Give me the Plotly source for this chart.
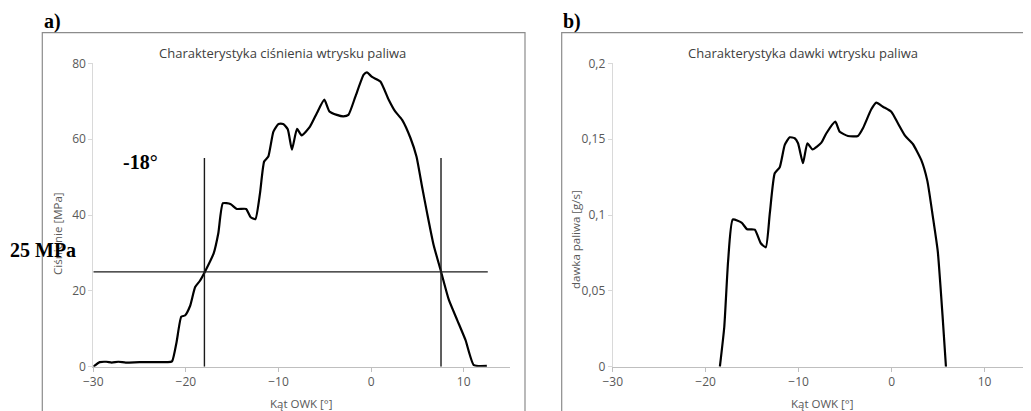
import plotly.graph_objects as go

# ---- data: injection pressure (panel a) ----
kat_a = [-30, -29.3, -28.6, -28.0, -27.3, -26.5, -25.0, -23.0, -22.0, -21.5, -21.0, -20.5, -20.1,
         -19.55, -19.0, -18.5, -18.0, -17.0, -16.5, -16.0, -15.2, -14.5, -13.5, -13.0, -12.5,
         -12.0, -11.55, -11.1, -10.55, -10.0, -9.5, -9.0, -8.55, -8.0, -7.5, -6.6, -5.85,
         -5.05, -4.5, -3.7, -3.0, -2.45, -1.7, -0.8, -0.45, 0.1, 1.0, 1.9, 2.6, 3.35, 4.25,
         4.9, 5.5, 6.05, 6.75, 7.55, 8.4, 9.3, 10.2, 11.1, 12.5]
cisnienie = [0, 1.2, 1.3, 1.1, 1.3, 1.1, 1.2, 1.2, 1.2, 1.4, 6.6, 13.2, 13.5,
             16.0, 21.0, 22.6, 24.8, 29.9, 35.2, 43.1, 42.9, 41.6, 41.6, 39.4, 38.9,
             45.7, 54.1, 55.4, 62.0, 64.0, 64.0, 62.6, 57.2, 62.7, 61.0, 63.3, 66.9,
             70.4, 67.3, 66.4, 66.0, 66.4, 71.2, 77.0, 77.6, 76.4, 75.2, 70.4, 67.3, 65.1, 60.3,
             55.4, 47.5, 40.5, 32.1, 25.1, 17.6, 12.3, 7.0, 0.4, 0.2]

# reference lines in panel a
start_x = [-18, -18]
start_y = [0, 55]
end_x = [7.55, 7.55]
end_y = [0, 55]
level_x = [-30, 12.6]
level_y = [25, 25]

# ---- data: injection dose (panel b) ----
kat_b = [-18.47, -18.0, -17.58, -17.08, -16.14, -15.54, -14.72, -14.07, -13.53, -13.1, -12.57,
         -12.03, -11.49, -10.96, -10.42, -10.06, -9.53, -9.06, -8.5, -7.55, -7.01, -6.05, -5.58,
         -4.69, -3.62, -3.08, -2.18, -1.64, -0.93, -0.03, 0.68, 1.47, 2.29, 3.19, 3.85, 4.44,
         4.97, 5.48, 5.85]
dawka = [0, 0.026, 0.070, 0.097, 0.095, 0.0906, 0.0903, 0.0814, 0.0787, 0.101, 0.1275,
         0.1315, 0.1462, 0.1512, 0.1506, 0.1473, 0.1341, 0.1473, 0.1433, 0.1477, 0.1539, 0.1615, 0.1549,
         0.1521, 0.1521, 0.1572, 0.1697, 0.1741, 0.1714, 0.1681, 0.1605, 0.1521, 0.1468, 0.1363, 0.1225, 0.0989,
         0.076, 0.034, 0]

x_ticks = [-30, -20, -10, 0, 10]
ya_ticks = [0, 20, 40, 60, 80]
yb_ticks = [0, 0.05, 0.1, 0.15, 0.2]
yb_labels = ["0", "0,05", "0,1", "0,15", "0,2"]

W, H = 1031, 411
OFF = 8  # page body margin
def px(x):
    return (x - OFF) / W
def py(y):
    return 1 - (y - OFF) / H

fig = go.Figure()
curve = dict(color="black", width=2.2, shape="spline", smoothing=0.5)
ref = dict(color="#1a1a1a", width=1.4)

fig.add_trace(go.Scatter(x=kat_a, y=cisnienie, mode="lines", line=curve, xaxis="x", yaxis="y", showlegend=False))
for xs, ys in [(start_x, start_y), (end_x, end_y), (level_x, level_y)]:
    fig.add_trace(go.Scatter(x=xs, y=ys, mode="lines", line=ref, xaxis="x", yaxis="y", showlegend=False))
fig.add_trace(go.Scatter(x=kat_b, y=dawka, mode="lines", line=curve, xaxis="x2", yaxis="y2", showlegend=False))

tickfont = dict(family="Open Sans", size=12, color="#595959")
xcommon = dict(range=[-30, 15], tickvals=x_ticks, showgrid=False, zeroline=False, automargin=False,
               showline=True, linecolor="#bfbfbf", linewidth=1,
               ticks="outside", ticklen=4, tickcolor="#bfbfbf", tickfont=tickfont)
ycommon = dict(showgrid=False, zeroline=False, showline=True, linecolor="#d9d9d9", linewidth=1,
               automargin=False, ticks="outside", ticklen=4, tickcolor="#d9d9d9", tickfont=tickfont)

fig.update_layout(
    width=W, height=H, margin=dict(l=0, r=0, t=0, b=0, autoexpand=False),
    paper_bgcolor="white", plot_bgcolor="rgba(0,0,0,0)",
    xaxis=dict(domain=[px(93.3), px(510)], anchor="y", **xcommon),
    yaxis=dict(domain=[py(366.7), py(63.3)], anchor="x", range=[0, 80], tickvals=ya_ticks, **ycommon),
    xaxis2=dict(domain=[px(612.7), min(1.0, px(1031))], anchor="y2", **xcommon),
    yaxis2=dict(domain=[py(366.7), py(63.3)], anchor="x2", range=[0, 0.2], tickvals=yb_ticks,
                ticktext=yb_labels, **ycommon),
)

# chart boxes
for x0, x1 in [(42.3, 525), (561.7, 1060)]:
    fig.add_shape(type="rect", xref="paper", yref="paper", x0=px(x0), x1=px(x1), y0=py(440), y1=py(32.7),
                  line=dict(color="#8c8c8c", width=1.2), fillcolor="rgba(0,0,0,0)", layer="below")

titlefont = dict(family="Open Sans", size=13, color="#404040")
axfont = dict(family="Open Sans", size=11.5, color="#595959")
boldserif = dict(family="Liberation Serif", size=20, color="black")

ann = [
    dict(x=px(282), y=py(53), text="Charakterystyka ciśnienia wtrysku paliwa", font=titlefont),
    dict(x=px(803), y=py(53), text="Charakterystyka dawki wtrysku paliwa", font=titlefont),
    dict(x=px(301), y=py(403), text="Kąt OWK [°]", font=axfont),
    dict(x=px(822), y=py(403), text="Kąt OWK [°]", font=axfont),
    dict(x=px(57), y=py(234), text="Ciśnienie [MPa]", font=axfont, textangle=-90),
    dict(x=px(575), y=py(240), text="dawka paliwa [g/s]", font=axfont, textangle=-90),
    dict(x=px(52.5), y=py(22), text="<b>a)</b>", font=boldserif),
    dict(x=px(572), y=py(22), text="<b>b)</b>", font=boldserif),
    dict(x=px(140), y=py(162), text="<b>-18°</b>", font=boldserif),
    dict(x=px(43), y=py(250), text="<b>25 MPa</b>", font=boldserif),
]
for a in ann:
    a.update(xref="paper", yref="paper", showarrow=False, xanchor="center", yanchor="middle")
    fig.add_annotation(**a)

fig.write_html("out.html")
